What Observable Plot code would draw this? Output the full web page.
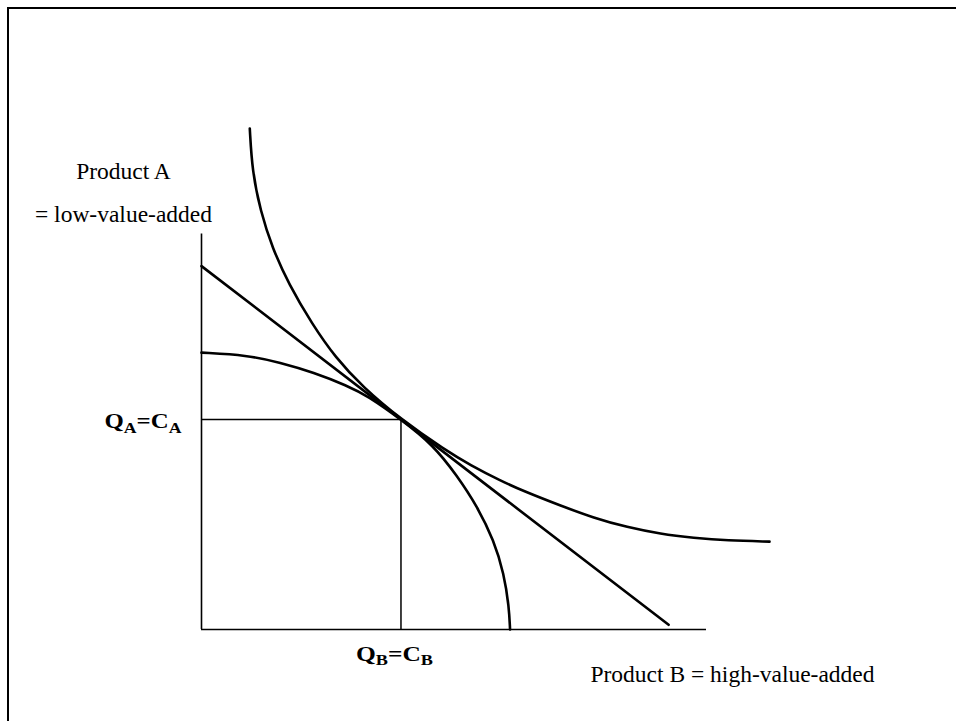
<!DOCTYPE html>
<html>
<head>
<meta charset="utf-8">
<script src="https://cdn.jsdelivr.net/npm/d3@7"></script>
<script src="https://cdn.jsdelivr.net/npm/@observablehq/plot@0.6"></script>
<style>
  html, body { margin: 0; padding: 0; background: #fff; overflow: hidden; width: 956px; height: 721px; }
  #chart { position: absolute; left: 0; top: 0; }
  #frame { position: absolute; left: 6.5px; top: 7px; width: 3000px; height: 3000px;
           border-left: 2.5px solid #000; border-top: 2.5px solid #000; pointer-events: none; }
</style>
</head>
<body>
<div id="chart"></div>
<div id="frame"></div>
<script>
// ---- Data (x = Product B quantity, y = Product A quantity) ----
// Production possibility frontier (concave)
const ppfB = [0, 9.0, 15.6, 22.2, 28.9, 32.8, 39.5, 46.0, 50.6, 54.6, 57.9, 59.9, 60.9, 61.1];
const ppfA = [56.0, 55.5, 54.0, 52.0, 49.3, 47.3, 42.5, 37.2, 31.1, 24.9, 18.0, 11.3, 4.5, 0];

// Indifference curve (convex)
const icB = [9.56, 10.04, 11.68, 14.0, 17.29, 21.92, 26.53, 31.88, 39.5, 48.32, 53.27, 59.21, 63.76, 71.09, 77.68, 84.3, 90.89, 97.49, 104.1, 112.48];
const icA = [101.35, 92.73, 84.65, 77.23, 69.84, 61.76, 55.01, 49.09, 42.5, 36.24, 33.23, 30.1, 28.0, 25.05, 22.57, 20.67, 19.33, 18.53, 17.98, 17.78];

// Price line (tangent)
const priceB = [0, 92.5];
const priceA = [73.5, 0.95];

// Tangency point (production = consumption)
const tangentB = 39.5;
const tangentA = 42.5;

// Axis extents
const axisMaxB = 100;
const axisMaxA = 80;

// Labels
const yAxisTitle = ["Product A", "= low-value-added"];
const xAxisTitle = "Product B = high-value-added";
const equilibriumLabels = ["Q_A=C_A", "Q_B=C_B"];

// ---- Build tables ----
const ppf = ppfB.map((b, i) => ({b, a: ppfA[i]}));
const ic = icB.map((b, i) => ({b, a: icA[i]}));
const priceLine = priceB.map((b, i) => ({b, a: priceA[i]}));
const tangent = [{b: tangentB, a: tangentA}];

const serif = "'Liberation Serif', 'Times New Roman', Times, serif";

const chart = Plot.plot({
  width: 956,
  height: 721,
  marginLeft: 201,
  marginRight: 250,
  marginTop: 233.5,
  marginBottom: 92,
  x: {domain: [0, axisMaxB], axis: null},
  y: {domain: [0, axisMaxA], axis: null},
  style: {background: "transparent", fontFamily: serif, color: "#000", overflow: "visible"},
  marks: [
    // axes
    Plot.ruleX([0], {y1: 0, y2: axisMaxA, stroke: "#000", strokeWidth: 1.6}),
    Plot.ruleY([0], {x1: 0, x2: axisMaxB, stroke: "#000", strokeWidth: 1.6}),
    // guide lines to tangency point
    Plot.ruleY(tangent, {y: "a", x1: 0, x2: "b", stroke: "#000", strokeWidth: 1.5}),
    Plot.ruleX(tangent, {x: "b", y1: 0, y2: "a", stroke: "#000", strokeWidth: 1.5}),
    // curves
    Plot.line(ppf, {x: "b", y: "a", curve: "basis", stroke: "#000", strokeWidth: 2.6}),
    Plot.line(ic, {x: "b", y: "a", curve: "basis", stroke: "#000", strokeWidth: 2.6}),
    Plot.line(priceLine, {x: "b", y: "a", stroke: "#000", strokeWidth: 2.6}),
    // axis titles
    Plot.text([yAxisTitle[0]], {x: 0, y: axisMaxA, text: d => d, textAnchor: "middle", lineAnchor: "bottom",
      dx: -78, dy: -55.5, fontSize: 23.5, fill: "#000"}),
    Plot.text([yAxisTitle[1]], {x: 0, y: axisMaxA, text: d => d, textAnchor: "middle", lineAnchor: "bottom",
      dx: -78, dy: -12.5, fontSize: 23.5, fill: "#000"}),
    Plot.text([xAxisTitle], {x: axisMaxB, y: 0, text: d => d, textAnchor: "middle", lineAnchor: "bottom",
      dx: 26, dy: 52, fontSize: 23.5, fill: "#000"}),
    // equilibrium labels
    Plot.text(tangent, {x: 0, y: "a", text: () => equilibriumLabels[0], textAnchor: "start", lineAnchor: "bottom",
      dx: -97, dy: 9, fontSize: 21, fontWeight: "bold", fill: "#000"}),
    Plot.text(tangent, {x: "b", y: 0, text: () => equilibriumLabels[1], textAnchor: "start", lineAnchor: "bottom",
      dx: -45, dy: 31, fontSize: 21, fontWeight: "bold", fill: "#000"})
  ]
});

// subscripts: "_X" -> subscript X
d3.select(chart).selectAll("text").each(function () {
  const t = d3.select(this);
  const s = t.text();
  if (!s.includes("_")) return;
  const parts = s.split(/(_.)/).filter(p => p.length);
  t.text(null);
  const shift = 4.5;
  let shifted = false;
  parts.forEach(p => {
    if (p[0] === "_") {
      t.append("tspan").attr("font-size", 15).attr("dy", shifted ? 0 : shift).text(p.slice(1));
      shifted = true;
    } else {
      t.append("tspan").attr("dy", shifted ? -shift : 0).text(p);
      shifted = false;
    }
  });
  t.attr("textLength", 77).attr("lengthAdjust", "spacingAndGlyphs");
});

document.getElementById("chart").appendChild(chart);
</script>
</body>
</html>
